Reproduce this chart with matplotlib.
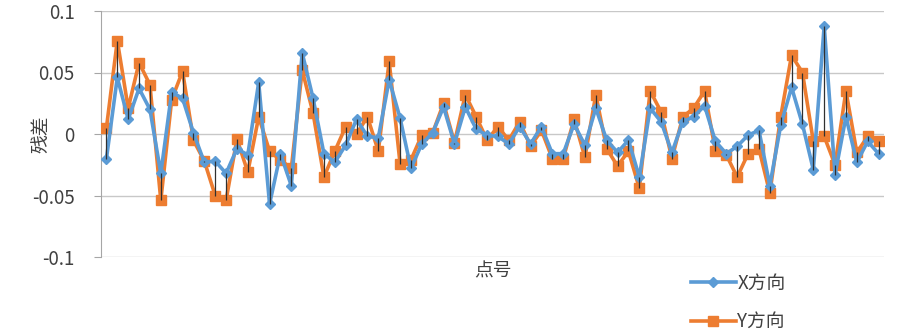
import matplotlib
matplotlib.use("Agg")
import matplotlib.pyplot as plt
import numpy as np

plt.rcParams['font.family'] = ['Noto Sans CJK SC', 'DejaVu Sans']

points = list(range(1, 73))
x_resid = [-0.020, 0.046, 0.012, 0.037, 0.020, -0.032, 0.034, 0.029, 0.001, -0.023,
           -0.022, -0.032, -0.012, -0.017, 0.042, -0.057, -0.016, -0.042, 0.066, 0.029,
           -0.016, -0.023, -0.009, 0.012, -0.002, -0.003, 0.044, 0.013, -0.028, -0.008,
           0.001, 0.022, -0.008, 0.022, 0.004, -0.001, -0.002, -0.008, 0.006, -0.008,
           0.006, -0.016, -0.016, 0.008, -0.009, 0.021, -0.005, -0.015, -0.005, -0.035,
           0.021, 0.010, -0.015, 0.010, 0.014, 0.023, -0.006, -0.016, -0.010, -0.001,
           0.003, -0.042, 0.007, 0.038, 0.008, -0.029, 0.088, -0.033, 0.014, -0.023,
           -0.006, -0.016]
y_resid = [0.005, 0.076, 0.021, 0.058, 0.040, -0.054, 0.028, 0.051, -0.005, -0.022,
           -0.050, -0.054, -0.004, -0.031, 0.014, -0.014, -0.021, -0.028, 0.052, 0.017,
           -0.035, -0.014, 0.006, 0.000, 0.014, -0.014, 0.059, -0.024, -0.021, -0.001,
           0.001, 0.025, -0.007, 0.032, 0.014, -0.005, 0.006, -0.005, 0.010, -0.010,
           0.003, -0.020, -0.020, 0.012, -0.019, 0.032, -0.012, -0.026, -0.014, -0.044,
           0.035, 0.018, -0.020, 0.014, 0.021, 0.035, -0.014, -0.017, -0.035, -0.016,
           -0.012, -0.048, 0.014, 0.064, 0.050, -0.006, -0.002, -0.025, 0.035, -0.015,
           -0.002, -0.006]
y_ticks = [-0.1, -0.05, 0, 0.05, 0.1]
y_tick_labels = ['-0.1', '-0.05', '0', '0.05', '0.1']

W, H = 902, 334
fig = plt.figure(figsize=(W / 100, H / 100), dpi=100)
ax = fig.add_axes([101 / W, 1 - 257 / H, (884 - 101) / W, (257 - 11) / H])

blue = '#5B9BD5'
orange = '#ED7D31'
ax.plot(points, y_resid, color=orange, lw=2.6, marker='s', ms=7.5, mfc=orange,
        mec=orange, zorder=3, label='Y方向')
ax.plot(points, x_resid, color=blue, lw=2.6, marker='D', ms=5.5, mfc=blue,
        mec=blue, zorder=4, label='X方向')
ax.vlines(points, np.minimum(x_resid, y_resid), np.maximum(x_resid, y_resid),
          colors='#303030', lw=0.9, zorder=5)

ax.set_xlim(0.5, len(points) + 0.5)
ax.set_ylim(-0.1, 0.1)
ax.set_yticks(y_ticks)
ax.set_yticklabels(y_tick_labels, fontsize=13.5, color='#404040')
ax.set_xticks([])
ax.yaxis.grid(True, color='#c8c8c8', lw=1)
ax.set_axisbelow(True)
for s in ['top', 'right', 'bottom']:
    ax.spines[s].set_visible(False)
ax.spines['left'].set_color('#a6a6a6')
ax.tick_params(axis='y', length=5, color='#a6a6a6', pad=14)

fig.text(41 / W, 1 - 134 / H, '残差', rotation=90, ha='center', va='center',
         fontsize=13.5, color='#404040')
fig.text(493 / W, 1 - 271 / H, '点号', ha='center', va='center',
         fontsize=13.5, color='#404040')

h, l = ax.get_legend_handles_labels()
leg = fig.legend([h[1], h[0]], [l[1], l[0]], loc='upper left',
                 bbox_to_anchor=(683 / W, 1 - 265 / H), frameon=False,
                 fontsize=13.5, labelspacing=0.95, handlelength=2.4,
                 handletextpad=0.1, borderaxespad=0)
for t in leg.get_texts():
    t.set_color('#404040')

fig.savefig('out.png', dpi=100)
